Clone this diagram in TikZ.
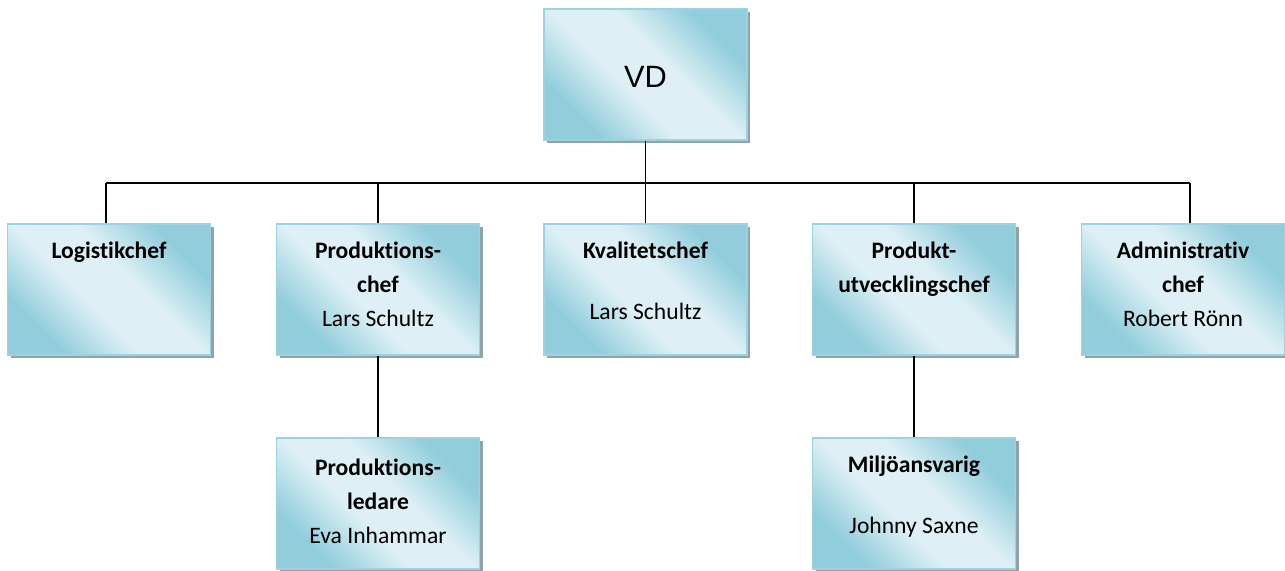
\documentclass[tikz,border=0pt]{standalone}
\usepackage{fontspec}
\setmainfont{Carlito}[Ligatures=NoCommon]
\newfontfamily\vdfont{Liberation Sans}
\usepackage{tikz}
\usetikzlibrary{shadows}

\definecolor{boxdark}{HTML}{92CDDC}
\definecolor{boxlight}{HTML}{DEF0F5}
\definecolor{boxedge}{HTML}{9DD2E0}
\definecolor{shadowgrey}{HTML}{8FA4A9}

% broad light band, dark corners
\pgfdeclareverticalshading{boxshade}{100bp}{color(0bp)=(boxdark); color(27bp)=(boxdark); color(43bp)=(boxlight); color(57bp)=(boxlight); color(73bp)=(boxdark); color(100bp)=(boxdark)}

\newcommand{\boxtext}[1]{\parbox[t][65.5pt][t]{101.5pt}{\centering\rule{0pt}{17pt}#1}}

\tikzset{
  chefbox/.style={rectangle, inner sep=0pt, draw=boxedge, line width=0.9pt,
    shading=boxshade, shading angle=-45,
    drop shadow={shadow xshift=1.6pt, shadow yshift=-1.6pt, fill=shadowgrey, opacity=1},
    font=\fontsize{11.8pt}{17pt}\selectfont},
  orgline/.style={draw=black, line width=0.95pt}
}

\begin{document}
\begin{tikzpicture}[x=0.5pt, y=-0.5pt]
		\useasboundingbox (0,0) rectangle (1285,570);
		
		\node[chefbox, minimum width=101.5pt, minimum height=65.5pt] (vd) at (645.5,74.5) {\vdfont\fontsize{15.4pt}{18pt}\selectfont\rule{0pt}{13pt}VD};
		
		\node[chefbox] (logistik) at (109,289.5) {\boxtext{\textbf{Logistikchef}}};
		\node[chefbox] (prodchef) at (378,289.5) {\boxtext{\textbf{Produktions-}\\\textbf{chef}\\Lars Schultz}};
		\node[chefbox] (kvalitet) at (645.5,289.5) {\boxtext{\textbf{Kvalitetschef}\\[13.5pt]Lars Schultz}};
		\node[chefbox] (produtv) at (914,289.5) {\boxtext{\textbf{Produkt-}\\\textbf{utvecklingschef}}};
		\node[chefbox] (admin) at (1183,289.5) {\boxtext{\textbf{Administrativ}\\\textbf{chef}\\Robert Rönn}};
		
		\node[chefbox] (prodledare) at (378,503.5) {\boxtext{\rule{0pt}{18.5pt}\textbf{Produktions-}\\\textbf{ledare}\\Eva Inhammar}};
		\node[chefbox] (miljo) at (914,503.5) {\boxtext{\textbf{Miljöansvarig}\\[13.5pt]Johnny Saxne}};
		
		\coordinate (busL) at (106,183);
		\coordinate (busR) at (1190,183);
		
		\draw[orgline] (busL) -- (busR);
		\draw[orgline] (vd.south) -- (kvalitet.north);
		\draw[orgline] (busL) -- (busL |- logistik.north);
		\draw[orgline] (prodchef.north |- busL) -- (prodchef.north);
		\draw[orgline] (produtv.north |- busL) -- (produtv.north);
		\draw[orgline] (busR) -- (busR |- admin.north);
		\draw[orgline] (prodchef.south) -- (prodledare.north);
		\draw[orgline] (produtv.south) -- (miljo.north);
		
		\end{tikzpicture}
\end{document}
